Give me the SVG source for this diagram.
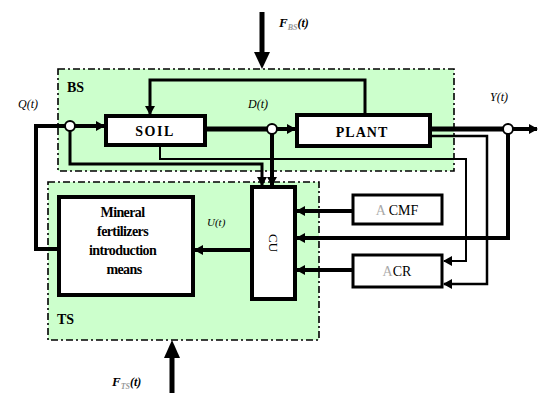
<svg xmlns="http://www.w3.org/2000/svg" width="538" height="393" viewBox="0 0 538 393">
<style>
.region{fill:#ccffcc;stroke:#000;stroke-width:1.6;stroke-dasharray:7,3,2,3}
.box{fill:#fff;stroke:#000;stroke-width:4}
.thin{fill:#fff;stroke:#000;stroke-width:3}
.ln{fill:none;stroke:#000}
.lbl{font-family:"Liberation Serif",serif;font-weight:bold;fill:#000}
.it{font-family:"Liberation Serif",serif;font-style:italic;fill:#000}
.sum{fill:#fff;stroke:#000;stroke-width:2}
</style>
<defs>
<marker id="ah" markerUnits="userSpaceOnUse" markerWidth="9" markerHeight="10" refX="8" refY="5" orient="auto">
<path d="M0,0 L9,5 L0,10 Z" fill="#000"/>
</marker>
</defs>
<rect width="538" height="393" fill="#fff"/>
<g id="BS">
<rect class="region" x="58" y="69" width="396" height="102"/>
<text class="lbl" x="67" y="92" font-size="14">BS</text>
</g>
<g id="TS">
<rect class="region" x="48" y="182" width="271" height="158"/>
<text class="lbl" x="57" y="324" font-size="14">TS</text>
</g>
<g id="connectors">
<path class="ln" stroke-width="4" d="M59,249 H36 V126 H65"/>
<path class="ln" stroke-width="4" d="M75,126 H104" marker-end="url(#ah)"/>
<path class="ln" stroke-width="5" d="M205,129 H267"/>
<path class="ln" stroke-width="4" d="M277,129 H295" marker-end="url(#ah)"/>
<path class="ln" stroke-width="3" d="M365,115 V80 H150 V114" marker-end="url(#ah)"/>
<path class="ln" stroke-width="5" d="M430,129 H503"/>
<path class="ln" stroke-width="4" d="M513,129 H537" marker-end="url(#ah)"/>
<path class="ln" stroke-width="3" d="M70,131 V164 H262 V185" marker-end="url(#ah)"/>
<path class="ln" stroke-width="4" d="M272,134 V185" marker-end="url(#ah)"/>
<path class="ln" stroke-width="2" d="M160,145 V159 H466 V261 H444" marker-end="url(#ah)"/>
<path class="ln" stroke-width="2.5" d="M430,136 H487 V284 H444" marker-end="url(#ah)"/>
<path class="ln" stroke-width="4" d="M508,134 V238 H297" marker-end="url(#ah)"/>
<path class="ln" stroke-width="4" d="M353,211 H297" marker-end="url(#ah)"/>
<path class="ln" stroke-width="4" d="M353,270 H297" marker-end="url(#ah)"/>
<path class="ln" stroke-width="4" d="M252,250 H195" marker-end="url(#ah)"/>
<path class="ln" stroke-width="5" d="M262,12 V55"/>
<path d="M254,52 L270,52 L262,69 Z" fill="#000"/>
<path class="ln" stroke-width="5" d="M172,393 V355"/>
<path d="M164,358 L180,358 L172,340 Z" fill="#000"/>
<circle class="sum" cx="70" cy="126" r="5"/>
<circle class="sum" cx="272" cy="129" r="5"/>
<circle class="sum" cx="508" cy="129" r="5"/>
</g>
<g id="SOIL">
<rect class="box" x="106" y="116" width="99" height="29"/>
<text class="lbl" x="155" y="136" font-size="14" text-anchor="middle" letter-spacing="1.5">SOIL</text>
</g>
<g id="PLANT">
<rect class="box" x="297" y="115" width="133" height="31"/>
<text class="lbl" x="362" y="137" font-size="14" text-anchor="middle" letter-spacing="1">PLANT</text>
</g>
<g id="CU">
<rect class="box" x="252" y="187" width="43" height="112"/>
<text x="273" y="243" font-family="'Liberation Serif',serif" font-size="13" text-anchor="middle" transform="rotate(90 273 243)" dy="4">CU</text>
</g>
<g id="Mineral">
<rect class="box" x="59" y="197" width="134" height="98"/>
<text class="lbl" font-size="14" text-anchor="middle" letter-spacing="-0.6">
<tspan x="124" y="217">Mineral</tspan>
<tspan x="124" y="236">fertilizers</tspan>
<tspan x="124" y="255">introduction</tspan>
<tspan x="124" y="274">means</tspan>
</text>
</g>
<g id="ACMF">
<rect class="thin" x="353" y="195" width="89" height="29"/>
<text x="397" y="215" font-family="'Liberation Serif',serif" font-size="14" text-anchor="middle"><tspan fill="#aaa">A</tspan> CMF</text>
</g>
<g id="ACR">
<rect class="thin" x="353" y="255" width="89" height="32"/>
<text x="397" y="276" font-family="'Liberation Serif',serif" font-size="14" text-anchor="middle"><tspan fill="#aaa">A</tspan>CR</text>
</g>
<g id="labels">
<text class="it" x="18" y="108" font-size="12">Q(t)</text>
<text class="it" x="248" y="108" font-size="12">D(t)</text>
<text class="it" x="490" y="101" font-size="12">Y(t)</text>
<text class="it" x="207" y="226" font-size="11" fill="#777">U(t)</text>
<text class="it" x="279" y="27" font-size="13" font-weight="bold">F<tspan font-size="8" fill="#999" dy="3">BS</tspan><tspan font-size="12" dy="-3">(t)</tspan></text>
<text class="it" x="112" y="386" font-size="13" font-weight="bold">F<tspan font-size="8" fill="#999" dy="3">TS</tspan><tspan font-size="12" dy="-3">(t)</tspan></text>
</g>
</svg>
